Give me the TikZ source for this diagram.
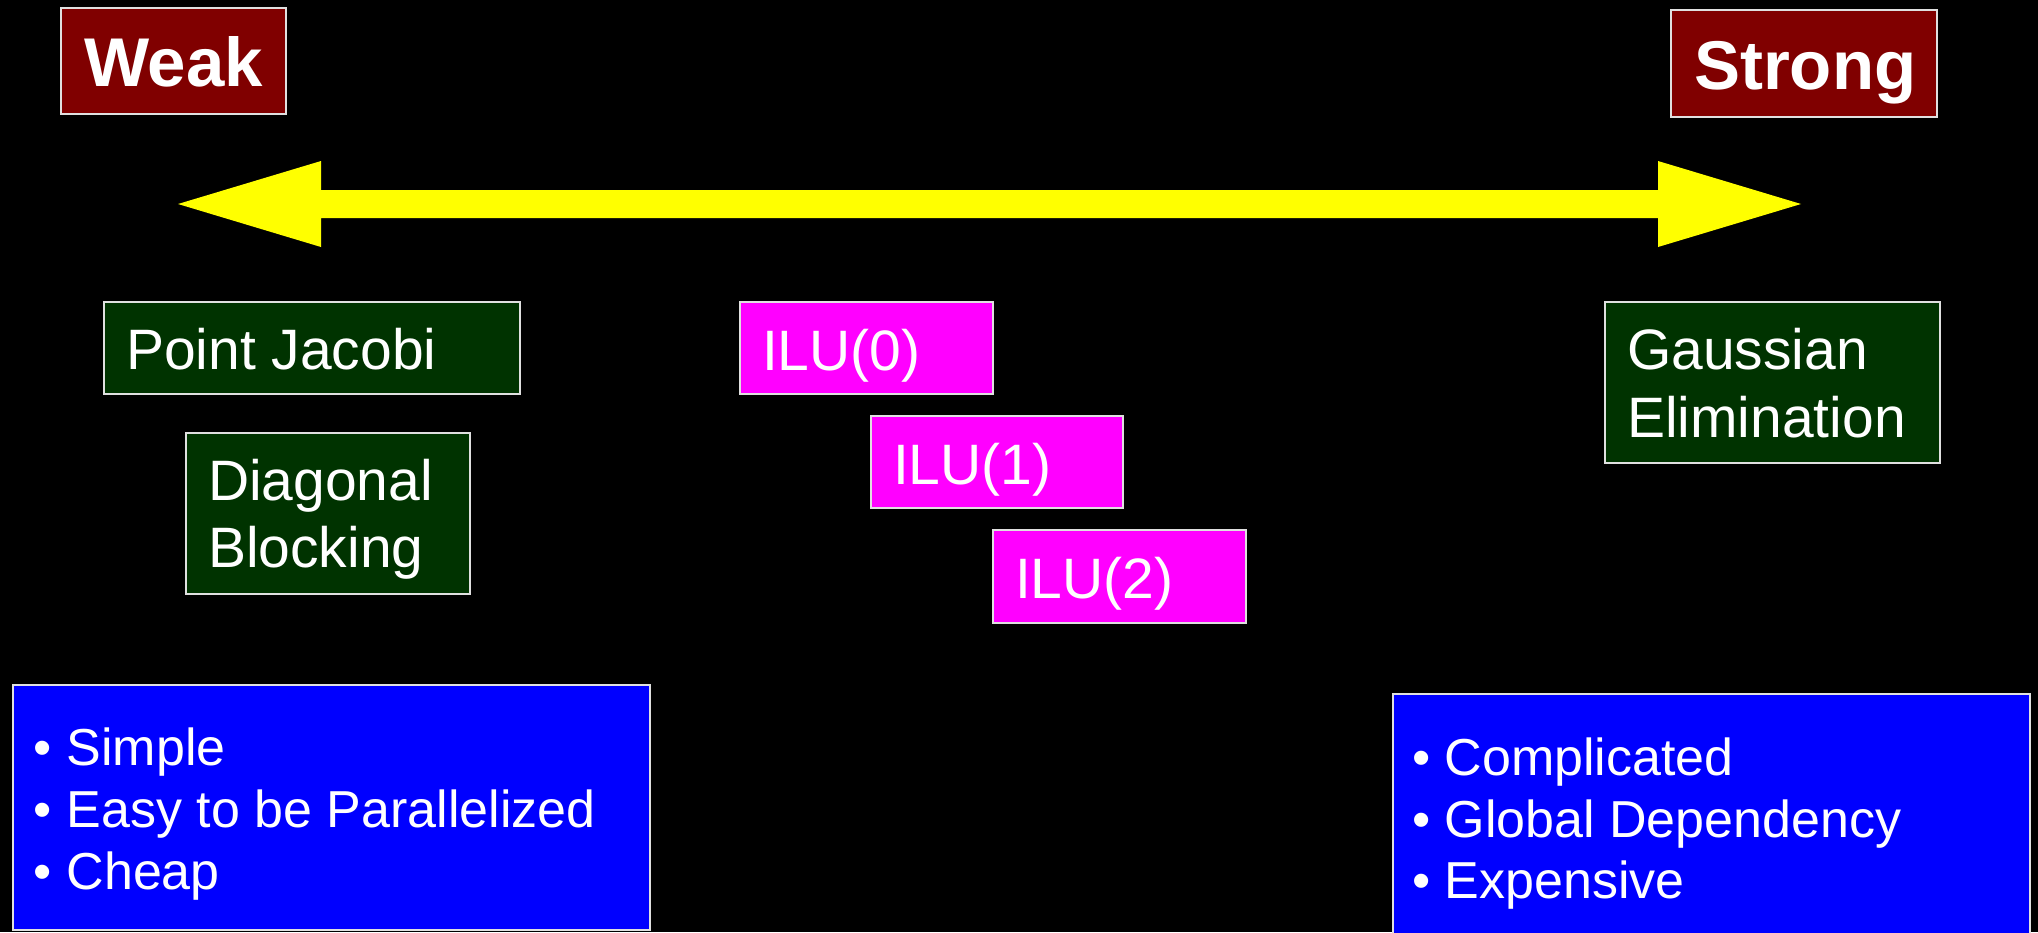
\documentclass[tikz,border=0pt]{standalone}
\usepackage{fontspec}
\setmainfont{Liberation Sans}
\definecolor{darkred}{HTML}{800000}
\definecolor{darkgreen}{HTML}{003300}
\definecolor{magentabox}{HTML}{FF00FF}
\definecolor{bluebox}{HTML}{0000FF}
\definecolor{arrowyellow}{HTML}{FFFF00}
\definecolor{boxedge}{HTML}{E0E0E0}
\begin{document}
\begin{tikzpicture}[x=1pt,y=-1pt,
  box/.style={draw=boxedge, line width=2pt, anchor=north west, inner sep=0pt, outer sep=0pt},
  redbox/.style={box, fill=darkred},
  greenbox/.style={box, fill=darkgreen},
  ilubox/.style={box, fill=magentabox},
  bulletbox/.style={box, fill=bluebox},
  txt/.style={text=white, anchor=base west, inner sep=0pt, outer sep=0pt, font=\fontsize{57}{67}\selectfont},
  titletxt/.style={txt, font=\fontsize{69}{80}\selectfont\bfseries},
  bullettxt/.style={txt, font=\fontsize{52}{60}\selectfont}]
\useasboundingbox (0,0) rectangle (2038,932);
\fill[black] (0,0) rectangle (2038,932);
\clip (0,0) rectangle (2038,932);

% double-headed block arrow
\fill[arrowyellow] (178,204) -- (321,161) -- (321,190) -- (1658,190) -- (1658,161)
  -- (1801,204) -- (1658,247) -- (1658,218) -- (321,218) -- (321,247) -- cycle;

% title boxes
\node[redbox, minimum width=225, minimum height=106] (weak) at (61,8) {};
\node[titletxt] (weakt) at (84,86) {Weak};
\node[redbox, minimum width=266, minimum height=107] (strong) at (1671,10) {};
\node[titletxt] (strongt) at (1694,89) {Strong};

% green boxes
\node[greenbox, minimum width=416, minimum height=92] (pj) at (104,302) {};
\node[txt] (pjt) at (126,369) {Point Jacobi};
\node[greenbox, minimum width=284, minimum height=161] (db) at (186,433) {};
\node[txt] (dbt1) at (208,500) {Diagonal};
\node[txt] (dbt2) at (208,567) {Blocking};
\node[greenbox, minimum width=335, minimum height=161] (ge) at (1605,302) {};
\node[txt] (get1) at (1627,369) {Gaussian};
\node[txt] (get2) at (1627,437) {Elimination};

% ILU boxes
\node[ilubox, minimum width=253, minimum height=92] (ilu0) at (740,302) {};
\node[txt] (ilu0t) at (762,370) {ILU(0)};
\node[ilubox, minimum width=252, minimum height=92] (ilu1) at (871,416) {};
\node[txt] (ilu1t) at (893,484) {ILU(1)};
\node[ilubox, minimum width=253, minimum height=93] (ilu2) at (993,530) {};
\node[txt] (ilu2t) at (1015,598) {ILU(2)};

% bullet boxes
\node[bulletbox, minimum width=637, minimum height=245] (lb) at (13,685) {};
\node[bullettxt] (lb1) at (34,765) {• Simple};
\node[bullettxt] (lb2) at (34,827) {• Easy to be Parallelized};
\node[bullettxt] (lb3) at (34,889) {• Cheap};
\node[bulletbox, minimum width=637, minimum height=260] (rb) at (1393,694) {};
\node[bullettxt] (rb1) at (1412,775) {• Complicated};
\node[bullettxt] (rb2) at (1412,837) {• Global Dependency};
\node[bullettxt] (rb3) at (1412,898) {• Expensive};
\end{tikzpicture}
\end{document}
